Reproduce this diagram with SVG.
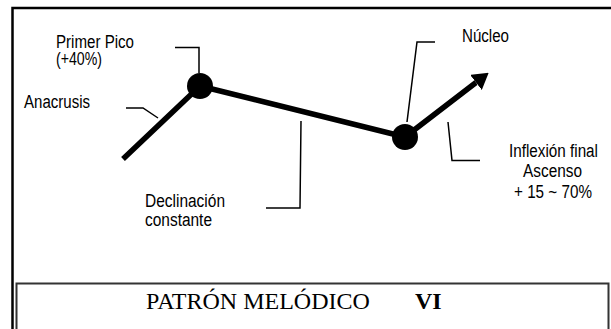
<svg xmlns="http://www.w3.org/2000/svg" width="611" height="329" viewBox="0 0 611 329">
<style>
.lbl{font-family:"Liberation Sans Narrow","Liberation Sans",Arial,sans-serif;font-size:18px;fill:#000}
.lead{fill:none;stroke:#000;stroke-width:1.5}
.main{fill:none;stroke:#000;stroke-width:5.5;stroke-linejoin:round}
.dot{fill:#000}
.title{font-family:"Liberation Serif","Times New Roman",serif;font-size:24px;fill:#000}
</style>
<defs>
<marker id="ah" viewBox="0 0 16 19" refX="0" refY="9.5" markerWidth="16" markerHeight="19" markerUnits="userSpaceOnUse" orient="auto">
<path d="M0,0 L16,9.5 L0,19 z" fill="#000"/>
</marker>
</defs>
<rect width="611" height="329" fill="#fff"/>
<g id="frame">
<path d="M12.5,340 V8 H620" fill="none" stroke="#000" stroke-width="2.5"/>
<path d="M16.5,340 V283.5 H608.5 V340" fill="none" stroke="#333" stroke-width="2"/>
</g>
<g id="connectors">
<polyline class="main" points="123,159 200,86 405,137 476,82.5" marker-end="url(#ah)"/>
<polyline class="lead" points="175,47.5 199,47.5 199,73"/>
<polyline class="lead" points="126,108 143,108 158,118"/>
<polyline class="lead" points="301,121 300,208 266,208"/>
<polyline class="lead" points="435,42 417,42 407,122"/>
<polyline class="lead" points="448,122 452,160.5 480,160.5"/>
</g>
<g id="peak"><circle class="dot" cx="200" cy="86" r="13"/></g>
<g id="nucleus"><circle class="dot" cx="405" cy="137" r="13"/></g>
<g id="label-primer-pico">
<text class="lbl" x="56" y="48" textLength="78" lengthAdjust="spacingAndGlyphs">Primer Pico</text>
<text class="lbl" x="56" y="65" textLength="46" lengthAdjust="spacingAndGlyphs">(+40%)</text>
</g>
<g id="label-anacrusis">
<text class="lbl" x="24" y="108" textLength="66" lengthAdjust="spacingAndGlyphs">Anacrusis</text>
</g>
<g id="label-declinacion">
<text class="lbl" x="145" y="207" textLength="80" lengthAdjust="spacingAndGlyphs">Declinación</text>
<text class="lbl" x="145" y="226" textLength="67" lengthAdjust="spacingAndGlyphs">constante</text>
</g>
<g id="label-nucleo">
<text class="lbl" x="462" y="42" textLength="47" lengthAdjust="spacingAndGlyphs">Núcleo</text>
</g>
<g id="label-inflexion">
<text class="lbl" x="509" y="157" textLength="89" lengthAdjust="spacingAndGlyphs">Inflexión final</text>
<text class="lbl" x="523" y="177" textLength="59" lengthAdjust="spacingAndGlyphs">Ascenso</text>
<text class="lbl" x="514" y="198" textLength="78" lengthAdjust="spacingAndGlyphs">+ 15 ~ 70%</text>
</g>
<g id="title">
<text class="title" x="146" y="309">PATRÓN MELÓDICO</text>
<text class="title" x="415" y="309" font-weight="bold">VI</text>
</g>
</svg>
